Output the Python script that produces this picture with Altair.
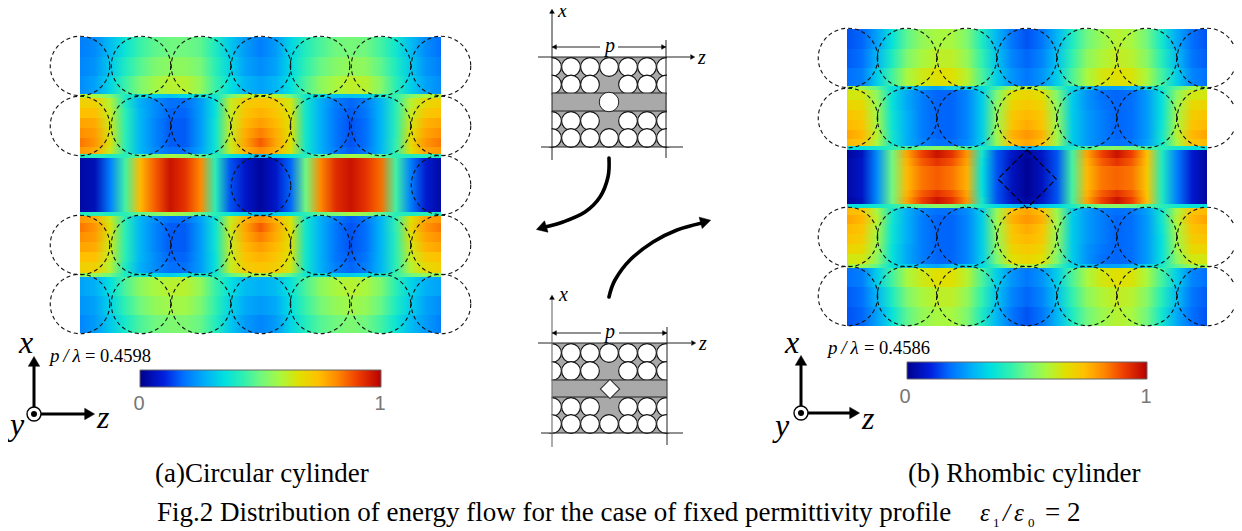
import altair as alt
import pandas as pd

# ---------- colour key (value %, colour) ----------
key_v = [0, 10, 18, 27, 35, 43, 50, 58, 66, 74, 82, 90, 100]
key_c = ["#00008c", "#0020e0", "#0070ff", "#00b0f8", "#00e0e0", "#30f0b0", "#70f880",
         "#a8f840", "#e0e000", "#ffc000", "#ff8800", "#f04000", "#b80000"]

# ---------- panel (a): 25 samples across, in percent ----------
A_x = [80, 441]
A_r1a = [20,22,29,37,44,48,50,50,48,40,31,24,20,24,33,41,46,50,51,50,45,38,29,22,18]
A_r1m = [21,23,31,40,47,52,54,54,51,42,33,25,22,25,34,43,49,53,55,54,48,40,31,23,20]
A_r1b = [22,25,33,44,52,57,60,60,55,44,35,28,25,28,35,46,54,58,61,60,53,42,32,25,22]
A_e12 = [60,58,52,40,36,32,30,34,36,38,50,60,62,60,50,38,34,30,30,32,38,44,52,58,60]
A_r2a = [70,70,60,40,27,22,18,18,24,36,62,71,73,71,64,38,27,20,17,20,28,42,60,68,70]
A_r2b = [74,74,62,42,28,22,17,17,24,36,62,73,76,73,65,38,27,19,16,19,28,42,62,72,74]
A_r2c = [78,77,63,42,28,21,16,16,24,37,62,75,79,75,66,38,27,19,15,18,28,42,64,76,78]
A_r2d = [81,79,64,42,28,21,16,16,24,37,62,77,83,77,66,38,27,19,15,18,28,42,66,78,81]
A_r2e = [84,80,65,42,28,21,16,16,24,37,63,78,87,78,66,38,27,19,15,18,28,43,68,80,84]
A_r2f = [80,77,63,42,28,22,18,18,25,37,62,76,82,76,65,38,27,20,16,19,28,43,66,78,80]
A_e23 = [40,42,40,42,48,52,58,55,48,42,36,32,28,32,36,42,48,52,58,55,48,42,40,42,40]
A_r3 = [3,5,20,45,75,87,97,92,82,42,15,7,2,7,17,50,82,93,97,92,85,45,20,8,3]
A_e45 = [55,55,50,40,38,34,32,36,38,38,48,56,58,56,48,38,36,32,32,34,38,44,50,55,55]
A_r5a = [25,27,35,46,54,58,60,60,55,44,35,29,27,29,36,46,54,58,60,58,52,42,33,27,25]
A_r5m = [23,25,33,43,50,55,57,57,52,43,33,26,24,26,35,44,51,55,57,55,49,40,32,25,22]
A_r5b = [21,24,31,39,46,50,52,52,49,41,31,24,21,24,33,41,47,50,52,50,45,37,29,24,20]
A_strips = [
 (37, 57, A_r1a), (57, 76, A_r1m), (76, 94, A_r1b), (94, 98, A_e12),
 (98, 108, A_r2a), (108, 118, A_r2b), (118, 128, A_r2c), (128, 138, A_r2d), (138, 147, A_r2e), (147, 154, A_r2f),
 (154, 158, A_e23), (158, 212, A_r3), (212, 216, A_e23),
 (216, 223, A_r2f), (223, 232, A_r2e), (232, 242, A_r2d), (242, 252, A_r2c), (252, 262, A_r2b), (262, 273, A_r2a),
 (273, 277, A_e45), (277, 296, A_r5a), (296, 315, A_r5m), (315, 333, A_r5b),
]

# ---------- panel (b) ----------
B_x = [847, 1207]
B_r1a = [15,17,25,36,48,55,58,58,52,40,28,19,15,19,28,40,50,56,60,58,50,38,26,18,15]
B_r1m = [16,18,28,40,52,58,61,61,55,43,30,21,17,21,30,43,54,59,62,60,53,41,29,19,16]
B_r1b = [18,20,32,45,58,63,66,66,60,46,32,23,19,23,32,46,58,64,66,65,58,45,32,21,18]
B_e12 = [58,56,48,36,32,28,25,30,32,34,45,56,60,56,45,34,30,25,25,28,33,40,48,56,58]
B_r2a = [64,64,54,36,26,20,17,17,21,32,52,66,69,66,52,32,23,18,17,18,24,36,54,64,64]
B_r2b = [69,68,56,36,26,20,17,17,21,32,54,69,72,69,54,32,23,19,17,18,24,36,56,68,69]
B_r2c = [73,71,57,37,27,20,17,17,21,32,55,72,75,72,55,32,24,20,17,18,24,36,57,71,73]
B_r2d = [75,73,58,37,27,20,17,17,21,32,56,73,77,73,56,32,24,20,17,18,24,37,58,73,75]
B_r2e = [78,75,60,38,27,20,17,17,21,32,57,76,80,76,57,32,24,20,17,18,24,38,60,75,78]
B_r2f = [75,73,58,38,27,21,18,18,22,32,56,74,78,74,56,32,24,20,18,19,25,38,58,73,75]
B_e23 = [36,36,38,42,46,50,54,52,46,40,34,30,26,30,34,40,46,52,54,50,46,42,38,36,36]
B_r3a = [2,6,22,50,78,90,97,92,80,38,15,7,2,7,15,45,78,90,97,90,74,40,20,8,2]
B_r3b = [3,7,22,50,76,87,92,88,78,36,15,6,1,6,15,45,76,87,92,87,73,40,20,8,2]
B_r3c = [3,7,22,50,75,84,87,84,76,35,15,6,1,6,15,45,75,84,86,84,72,40,20,8,2]
B_strips = [
 (29, 49, B_r1a), (49, 68, B_r1m), (68, 86, B_r1b), (86, 90, B_e12),
 (90, 100, B_r2a), (100, 110, B_r2b), (110, 120, B_r2c), (120, 130, B_r2d), (130, 139, B_r2e), (139, 146, B_r2f),
 (146, 150, B_e23), (150, 158, B_r3a), (158, 166, B_r3b), (166, 190, B_r3c), (190, 197, B_r3b), (197, 204, B_r3a),
 (204, 208, B_e23),
 (208, 215, B_r2f), (215, 224, B_r2e), (224, 234, B_r2d), (234, 244, B_r2c), (244, 254, B_r2b), (254, 264, B_r2a),
 (264, 268, B_e12), (268, 287, B_r1b), (287, 307, B_r1m), (307, 326, B_r1a),
]

# ---------- dashed outlines ----------
A_cx = [80, 141, 201, 261, 320, 381, 441]
A_cy = [66, 126, 245, 304]
A_mid = [(261, 186), (441, 185)]
B_cx = [848, 907, 967, 1027, 1087, 1147, 1207]
B_cy = [58, 118, 237, 296]
B_diamond = [(1027, 179)]

# ---------- small schematic cells ----------
cell_cx = [552, 571, 590, 609, 628, 647, 666]
cell_rows_top = [67, 84.5, 121, 138]
cell_rows_bot = [353, 371, 407, 424]

C_gray = "#a9a9a9"
domx, domy = [8, 1234], [529, 8]


def X(f="x", **k):
    return alt.X(f + ":Q", scale=alt.Scale(domain=domx, nice=False, zero=False), axis=None, **k)


def Y(f="y", **k):
    return alt.Y(f + ":Q", scale=alt.Scale(domain=domy, nice=False, zero=False), axis=None, **k)


def color_of(v):
    for i in range(len(key_v) - 1):
        if v <= key_v[i + 1]:
            t = (v - key_v[i]) / (key_v[i + 1] - key_v[i])
            a, b = key_c[i], key_c[i + 1]
            ch = [round(int(a[j:j + 2], 16) * (1 - t) + int(b[j:j + 2], 16) * t) for j in (1, 3, 5)]
            return "#%02x%02x%02x" % tuple(ch)
    return key_c[-1]


def grad(stops):
    return alt.LinearGradient(gradient="linear", x1=0, x2=1, y1=0, y2=0,
                              stops=[alt.GradientStop(color=c, offset=o) for o, c in stops])


def band(x0, x1, y0, y1, stops, **mk):
    d = pd.DataFrame({"x": [x0], "x2": [x1], "y": [y0], "y2": [y1]})
    return alt.Chart(d).mark_rect(color=grad(stops), **mk).encode(
        x=X(), x2=alt.X2("x2"), y=Y(), y2=alt.Y2("y2"))


def rect(x0, x1, y0, y1, fill):
    d = pd.DataFrame({"x": [x0], "x2": [x1], "y": [y0], "y2": [y1]})
    return alt.Chart(d).mark_rect(color=fill).encode(
        x=X(), x2=alt.X2("x2"), y=Y(), y2=alt.Y2("y2"))


def rules(segs, width=1.0, color="#222"):
    d = pd.DataFrame(segs, columns=["x", "y", "x2", "y2"])
    return alt.Chart(d).mark_rule(strokeWidth=width, color=color).encode(
        x=X(), y=Y(), x2=alt.X2("x2"), y2=alt.Y2("y2"))


def points(xy, size, shape="circle", fill=None, stroke="#222", width=1.0, dash=None, angle=None):
    d = pd.DataFrame(xy, columns=["x", "y"])
    kw = dict(shape=shape, size=size, strokeWidth=width, stroke=stroke, opacity=1)
    if fill:
        kw.update(filled=True, fill=fill)
    else:
        kw.update(filled=False)
    if dash:
        kw.update(strokeDash=dash)
    if angle is not None:
        kw.update(angle=angle)
    return alt.Chart(d).mark_point(**kw).encode(x=X(), y=Y())


def heads(xya, size, color="#000"):
    d = pd.DataFrame(xya, columns=["x", "y", "a"])
    return alt.Chart(d).mark_point(shape="triangle", size=size, filled=True, fill=color,
                                   stroke=color, strokeWidth=0.5, opacity=1).encode(
        x=X(), y=Y(), angle=alt.Angle("a:Q", scale=None))


def curve(xy, width=3.6):
    d = pd.DataFrame(xy, columns=["x", "y"]).assign(o=range(len(xy)))
    return alt.Chart(d).mark_line(strokeWidth=width, color="#000", interpolate="cardinal",
                                  strokeCap="round").encode(x=X(), y=Y(), order="o:Q")


def text(rows, size, font="Liberation Serif", style="normal", color="#000", align="left"):
    d = pd.DataFrame(rows, columns=["x", "y", "t"])
    return alt.Chart(d).mark_text(fontSize=size, font=font, fontStyle=style, color=color,
                                  align=align, baseline="alphabetic").encode(
        x=X(), y=Y(), text="t:N")


layers = []

# heat maps
for x_rng, strips in ((A_x, A_strips), (B_x, B_strips)):
    for y0, y1, vals in strips:
        stops = [(i / (len(vals) - 1), color_of(v)) for i, v in enumerate(vals)]
        layers.append(band(x_rng[0], x_rng[1], y0, y1, stops))

# dashed outlines
a_xy = [(x, y) for y in A_cy for x in A_cx] + A_mid
b_xy = [(x, y) for y in B_cy for x in B_cx]
layers.append(points(a_xy, 3540, dash=[4, 3], width=1.1, stroke="#111"))
layers.append(points(b_xy, 3540, dash=[4, 3], width=1.1, stroke="#111"))
layers.append(points(B_diamond, 1700, shape="square", angle=45, dash=[6, 3], width=1.1, stroke="#000"))

# schematic cells
for (ytop, ybot, rows, band_top, band_bot) in ((57, 147, cell_rows_top, 93, 111),
                                               (343, 433, cell_rows_bot, 380, 397)):
    layers.append(rect(552, 666.5, ytop, ybot, C_gray))
    cxy = []
    for j, y in enumerate(rows):
        for i, x in enumerate(cell_cx):
            if i == 3 and j in (1, 2):
                continue
            cxy.append((x, y))
    layers.append(points(cxy, 350, fill="#ffffff", stroke="#111", width=1.1))
    layers.append(rect(540, 551.6, ytop - 1, ybot, "#ffffff"))
    layers.append(rect(667, 680, ytop - 1, ybot, "#ffffff"))
    layers.append(rect(552, 666.5, band_top, band_bot, C_gray))
    layers.append(rules([(552, band_top, 666.5, band_top), (552, band_bot, 666.5, band_bot)], 1.0))

layers.append(points([(609, 102)], 380, fill="#ffffff", width=1.0))
layers.append(points([(610, 389)], 185, shape="square", angle=45, fill="#ffffff", width=1.0))

layers.append(rules([
    (552, 13, 552, 160), (666, 40, 666, 158), (538, 57, 690, 57), (541, 147, 683, 147),
    (552, 47, 600, 47), (618, 47, 666, 47),
    (667, 327, 667, 445), (538, 343, 691, 343), (541, 433, 683, 433),
    (552, 333, 601, 333), (619, 333, 667, 333)], 1.0))
layers.append(rules([(552, 299, 552, 447)], 1.2, "#777"))
layers.append(heads([(552, 12, 0), (692, 57, 90), (555, 47, 270), (663, 47, 90),
                     (552, 298, 0), (693, 343, 90), (555, 333, 270), (664, 333, 90)], 22))
layers.append(text([(558, 17, "x"), (698, 64, "z"), (605, 52, "p"),
                    (559, 301, "x"), (699, 350, "z"), (605, 338, "p")], 20, style="italic"))

# curved arrows
layers.append(curve([(609, 158), (608, 177), (600, 197), (585, 212), (563, 222), (545, 227)]))
layers.append(heads([(543, 227.5, 253)], 140))
layers.append(curve([(609, 297), (615, 280), (630, 260), (653, 242), (677, 230), (702, 223)]))
layers.append(heads([(704, 222, 75)], 140))

# axes triads
for ox, oy, tip_y, tip_x in ((34, 414, 363, 88), (801, 413, 362, 853)):
    layers.append(rules([(ox, oy, ox, tip_y), (ox, oy, tip_x, oy)], 3, "#000"))
    layers.append(heads([(ox, tip_y, 0), (tip_x, oy, 90)], 130))
    layers.append(points([(ox, oy)], 196, fill="#ffffff", stroke="#000", width=1.4))
    layers.append(points([(ox, oy)], 36, fill="#000000", stroke="#000", width=0))
layers.append(text([(19, 353, "x"), (10, 435, "y"), (97, 428, "z"),
                    (785, 353, "x"), (775, 436, "y"), (862, 429, "z")], 32, style="italic"))

# formula labels
layers.append(text([(50, 362, "p\u2009/\u2009\u03bb")], 19, style="italic"))
layers.append(text([(828, 354, "p\u2009/\u2009\u03bb")], 19, style="italic"))
layers.append(text([(85, 362, "= 0.4598"), (864, 354, "= 0.4586")], 18.5))

# colour bars
bar_stops = [(v / 100, c) for v, c in zip(key_v, key_c)]
for x0, x1, y0, y1 in ((140, 381, 370, 387), (907, 1147, 362, 379)):
    layers.append(band(x0, x1, y0, y1, bar_stops, stroke="#666", strokeWidth=1))
layers.append(text([(139, 410, "0"), (380, 410, "1"), (905, 403, "0"), (1146, 403, "1")], 20,
                   font="Liberation Sans", color="#777", align="center"))

# captions
layers.append(text([(155, 482, "(a)Circular cylinder"), (908, 482, "(b) Rhombic cylinder")], 27))
layers.append(text([(157, 521, "Fig.2 Distribution of energy flow for the case of fixed permittivity profile")], 27))
layers.append(text([(980, 521, "\u03b5"), (1003, 521, "/"), (1014, 521, "\u03b5")], 25, style="italic"))
layers.append(text([(993, 527, "1"), (1028, 527, "0")], 13))
layers.append(text([(1045, 521, "= 2")], 27))

chart = alt.layer(*layers).properties(width=1226, height=521, padding=0).configure_view(stroke=None)
chart.autosize = alt.AutoSizeParams(type="none")
chart.save("out.html", embed_options={"renderer": "svg", "actions": False})
